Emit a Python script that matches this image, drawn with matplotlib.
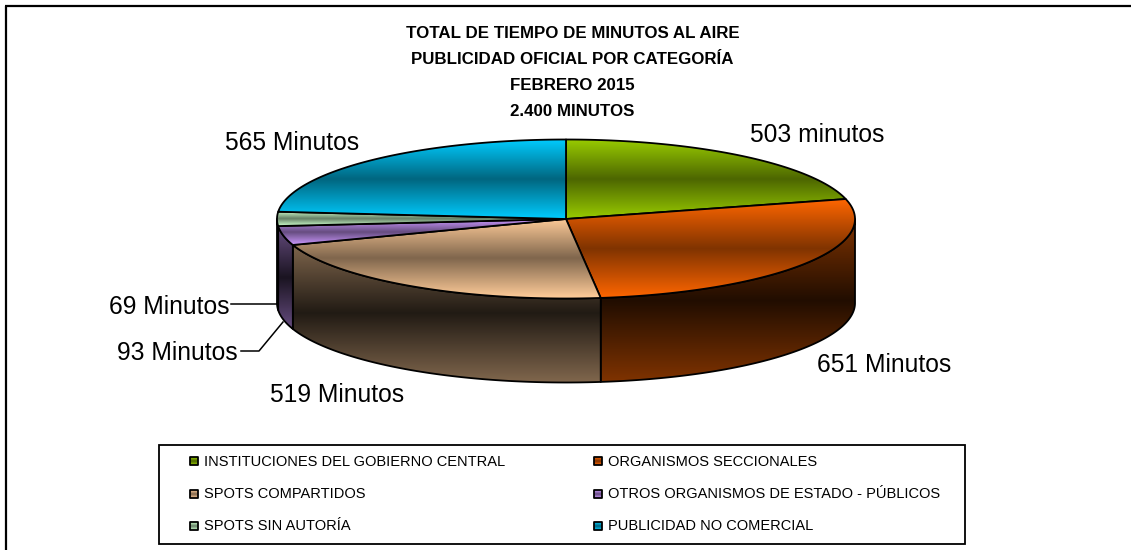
import numpy as np
import matplotlib
matplotlib.use("Agg")
import matplotlib.pyplot as plt
from matplotlib.colors import to_rgb
from matplotlib.path import Path
from matplotlib.patches import PathPatch, Rectangle

plt.rcParams['font.family'] = ['Liberation Sans', 'DejaVu Sans']

categories = ["INSTITUCIONES DEL GOBIERNO CENTRAL", "ORGANISMOS SECCIONALES",
              "SPOTS COMPARTIDOS", "OTROS ORGANISMOS DE ESTADO - PÚBLICOS",
              "SPOTS SIN AUTORÍA", "PUBLICIDAD NO COMERCIAL"]
values = [503, 651, 519, 93, 69, 565]
labels = ["503 minutos", "651 Minutos", "519 Minutos", "93 Minutos", "69 Minutos", "565 Minutos"]
colors = ["#99CC00", "#FF6600", "#FFCC99", "#CC99FF", "#CCFFCC", "#00CCFF"]
title_lines = ["TOTAL DE TIEMPO DE MINUTOS AL AIRE", "PUBLICIDAD OFICIAL POR CATEGORÍA",
               "FEBRERO 2015", "2.400 MINUTOS"]

# layout (pixels of the 1131x550 canvas)
CX, CY, RX, RY, DEPTH = 566.0, 219.0, 289.0, 79.5, 84.0
label_pos = [(817, 135), (884, 365.5), (337, 395.5), (177, 353.5), (169, 306.5), (292, 142.5)]
title_y = [34, 59.5, 85.5, 111.5]
leg_x = [190, 594]
leg_y = [461.5, 494.5, 526.5]

fig = plt.figure(figsize=(11.31, 5.5), dpi=100, facecolor="white")
ax = fig.add_axes([0, 0, 1, 1])
ax.set_xlim(0, 1131)
ax.set_ylim(550, 0)
ax.axis("off")


def scale(c, f):
    return tuple(np.array(to_rgb(c)) * f)


def gradient(verts, outer, mid, z):
    """Fill a polygon with a vertical outer-mid-outer gradient."""
    verts = np.asarray(verts)
    path = Path(np.vstack([verts, verts[0]]), closed=True)
    x0, x1 = verts[:, 0].min(), verts[:, 0].max()
    y0, y1 = verts[:, 1].min(), verts[:, 1].max()
    t = 1 - np.abs(np.linspace(-1, 1, 256))
    a, b = np.array(outer), np.array(mid)
    img = a + (b - a) * t.reshape(256, 1, 1)
    im = ax.imshow(img, extent=(x0, x1, y1, y0), aspect="auto", zorder=z, interpolation="bilinear")
    patch = PathPatch(path, transform=ax.transData, fc="none", ec="black", lw=1.3, zorder=z + 0.1,
                      joinstyle="round")
    ax.add_patch(patch)
    im.set_clip_path(patch)


def rim(th):
    return CX + RX * np.sin(th), CY - RY * np.cos(th)


edges = np.deg2rad(np.r_[0, np.cumsum(values)] / np.sum(values) * 360)

# side walls: only the front half of the disc (90..270 degrees)
for i, c in enumerate(colors):
    a, b = max(edges[i], np.pi / 2), min(edges[i + 1], 3 * np.pi / 2)
    if b <= a:
        continue
    th = np.linspace(a, b, 120)
    x, y = rim(th)
    verts = np.r_[np.c_[x, y], np.c_[x[::-1], y[::-1] + DEPTH]]
    gradient(verts, scale(c, 0.5), scale(c, 0.13), 2 + i * 0.2)

# top faces
for i, c in enumerate(colors):
    th = np.linspace(edges[i], edges[i + 1], 200)
    x, y = rim(th)
    verts = np.r_[[[CX, CY]], np.c_[x, y]]
    gradient(verts, scale(c, 1.0), scale(c, 0.5), 4 + i * 0.2)

# leader lines
ax.plot([231, 277], [304, 304], color="black", lw=1.1, zorder=6)
ax.plot([241, 259, 283], [351, 351, 322], color="black", lw=1.1, zorder=6)

# data labels
for (x, y), s in zip(label_pos, labels):
    ax.text(x, y, s, ha="center", va="center", fontsize=17.7, color="black", zorder=7)

# title
for y, s in zip(title_y, title_lines):
    ax.text(572.5, y, s, ha="center", va="center", fontsize=12.2, fontweight="bold", color="black", zorder=7)

# outer frame (open on the right and at the bottom)
ax.plot([6, 6], [550, 5.5], color="black", lw=1.6, zorder=1, solid_capstyle="butt")
ax.plot([5.2, 1131], [5.5, 5.5], color="black", lw=1.6, zorder=1, solid_capstyle="butt")
# legend frame
ax.add_patch(Rectangle((159, 445), 806, 99, fc="white", ec="black", lw=1.3, zorder=7))
for i, (name, c) in enumerate(zip(categories, colors)):
    lx, ly = leg_x[i % 2], leg_y[i // 2]
    v = [(lx, ly - 4.5), (lx + 8, ly - 4.5), (lx + 8, ly + 3.5), (lx, ly + 3.5)]
    gradient(v, scale(c, 1.0), scale(c, 0.5), 8)
    ax.text(lx + 14, ly, name, ha="left", va="center", fontsize=10.5, color="black", zorder=9)

ax.set_xlim(0, 1131)
ax.set_ylim(550, 0)
fig.savefig("out.png", dpi=100, facecolor="white")
